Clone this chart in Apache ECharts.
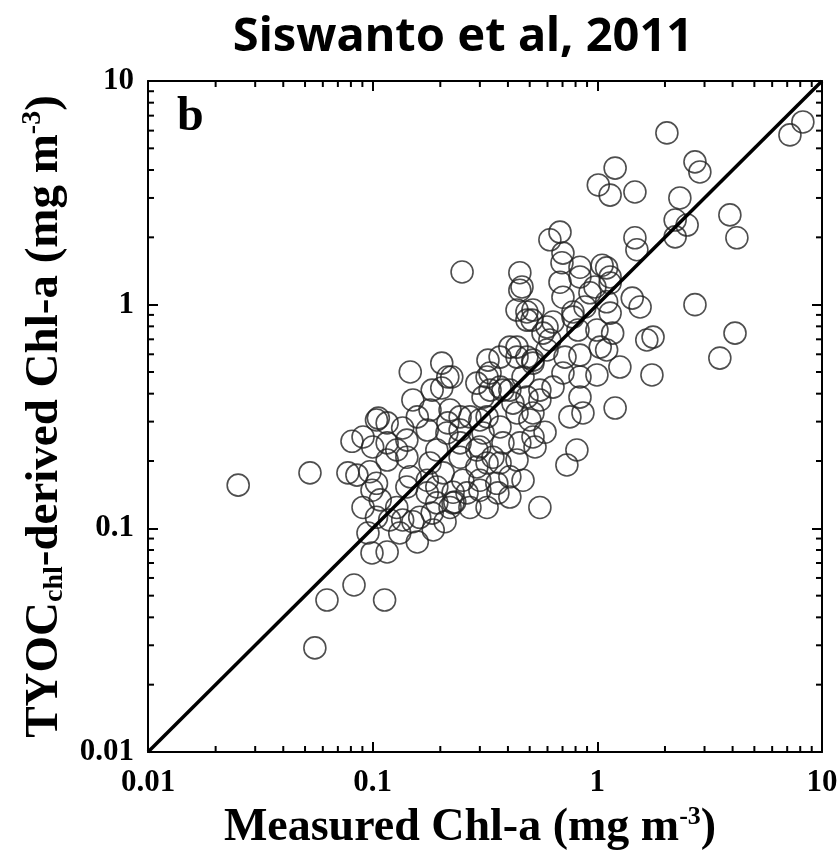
<!DOCTYPE html>
<html><head><meta charset="utf-8">
<script src="https://cdn.jsdelivr.net/npm/echarts@6/dist/echarts.min.js"></script>
<style>html,body{margin:0;padding:0;background:#fff}#c{width:837px;height:850px}</style>
</head><body><div id="c"></div>
<script>
// Measured Chl-a (x) and TYOCchl-derived Chl-a (y), mg m^-3
const measured = [
0.0252,0.0526,0.0776,0.0851,0.0809,0.0906,0.104,0.0993,0.0906,0.104,
0.0953,0.0993,0.0826,0.0626,0.0553,0.113,0.0972,0.116,0.132,0.158,
0.151,0.184,0.210,0.186,0.206,0.228,0.232,0.193,0.175,0.142,
0.245,0.300,0.291,0.300,0.323,0.216,0.245,0.300,0.310,0.310,
0.323,0.326,0.147,0.203,0.216,0.184,0.203,0.151,0.158,0.180,
0.221,0.106,0.116,0.136,0.116,0.128,0.142,0.116,0.108,0.128,
0.119,0.136,0.162,0.193,0.221,0.147,0.175,0.180,0.193,0.214,
0.142,0.175,0.100,0.104,0.228,0.271,0.323,0.263,0.300,0.361,
0.408,0.252,0.357,0.408,0.467,0.369,0.439,0.343,0.291,0.245,
0.245,0.380,0.452,0.517,0.501,0.439,0.369,0.323,0.271,0.421,
0.486,0.408,0.369,0.333,0.408,0.369,0.439,0.486,0.517,0.555,
0.452,0.439,0.486,0.486,2.04,2.72,2.86,2.33,2.22,2.51,
2.22,3.89,4.18,2.72,4.10,3.51,1.75,1.77,1.66,1.20,
1.01,1.14,1.47,0.682,0.615,0.703,0.696,0.250,0.452,0.462,
1.47,1.50,1.10,1.43,1.55,1.14,0.635,0.779,0.927,0.976,
0.703,0.682,0.837,1.14,0.820,0.996,1.17,1.10,1.26,0.996,
0.837,0.718,0.615,0.597,0.439,0.333,0.291,0.380,0.517,0.467,
0.555,0.635,0.837,0.225,1.05,0.837,0.779,0.881,1.14,1.10,
0.517,0.512,0.573,1.03,0.837,0.597,0.703,0.555,0.517,0.585,
0.528,0.755,0.863,1.20,0.811,0.732,7.20,8.22
];
const derived = [
0.156,0.177,0.177,0.173,0.245,0.256,0.305,0.148,0.124,0.112,
0.0953,0.0776,0.0558,0.0478,0.0292,0.0478,0.179,0.0784,0.0953,0.0869,
0.107,0.117,0.107,0.0983,0.177,0.145,0.131,0.153,0.144,0.153,
0.208,0.231,0.188,0.164,0.196,0.296,0.315,0.305,0.267,0.386,
0.475,0.565,0.500,0.548,0.475,0.415,0.424,0.375,0.315,0.338,
0.338,0.311,0.296,0.281,0.241,0.224,0.208,0.202,0.134,0.124,
0.109,0.109,0.112,0.130,0.124,0.170,0.164,0.196,0.224,0.267,
0.248,0.275,0.231,0.159,0.130,0.124,0.124,0.144,0.148,0.144,
0.138,0.164,0.159,0.170,0.164,0.196,0.202,0.208,0.224,0.241,
0.275,0.241,0.241,0.256,0.305,0.328,0.284,0.315,0.315,0.363,
0.386,0.415,0.428,0.415,0.646,0.583,0.583,0.583,0.565,0.124,
1.16,0.946,0.927,0.853,5.86,4.35,3.92,3.00,2.39,2.27,
2.01,2.52,1.99,1.00,0.746,0.577,0.485,0.716,0.695,4.08,
3.43,3.09,3.19,2.11,1.95,1.70,1.54,1.40,1.39,1.20,
1.99,1.76,1.46,1.07,0.976,0.917,0.836,0.880,1.13,1.20,
1.08,1.26,1.33,1.33,0.770,0.770,0.746,0.627,0.526,0.485,
0.475,0.583,0.695,0.794,0.646,0.495,0.446,0.415,0.548,0.475,
0.415,0.428,0.386,0.475,1.50,1.47,0.927,0.976,1.25,1.03,
0.946,0.853,0.746,0.646,0.595,0.627,0.495,0.375,0.328,0.269,
0.231,0.315,0.328,0.345,0.224,0.192,5.74,6.56
];
const oneToOneX = [0.01, 10];
const oneToOneY = [0.01, 10];
const axisMin = 0.01, axisMax = 10;
const majorTickLabels = ['0.01', '0.1', '1', '10'];
const minorTickValues = [0.02,0.03,0.04,0.05,0.06,0.07,0.08,0.09,
  0.2,0.3,0.4,0.5,0.6,0.7,0.8,0.9, 2,3,4,5,6,7,8,9];

const serif = 'Liberation Serif';
const chart = echarts.init(document.getElementById('c'), null, {renderer: 'canvas'});
const labelFmt = v => {
  const r = Number(v.toPrecision(2));
  const s = String(r);
  return majorTickLabels.includes(s) ? s : '';
};
const baseAxis = {
  type: 'log', logBase: 10, min: axisMin, max: axisMax, splitNumber: 3,
  axisLine: {show: true, lineStyle: {color: '#000', width: 2}},
  axisTick: {show: true, inside: true, length: 10, lineStyle: {color: '#000', width: 2}},
  splitLine: {show: false}, minorTick: {show: false}
};
const scatterData = measured.map((m, i) => [m, derived[i]]);
const lineData = oneToOneX.map((x, i) => [x, oneToOneY[i]]);

chart.setOption({
  animation: false,
  backgroundColor: '#fff',
  title: {
    text: 'Siswanto et al, 2011', left: 458, top: 9, textAlign: 'center',
    textStyle: {fontFamily: 'Noto Sans', fontWeight: 'bold', fontSize: 47, color: '#000'}
  },
  grid: {left: 148, right: 15, top: 81, bottom: 98, containLabel: false, outerBoundsMode: 'none'},
  xAxis: [
    Object.assign({}, baseAxis, {
      position: 'bottom',
      name: 'Measured Chl-a (mg m{sup|-3})',
      nameLocation: 'middle', nameGap: 52,
      nameTextStyle: {fontFamily: serif, fontWeight: 'bold', fontSize: 46, color: '#000',
        padding: [0, 30, 0, 0],
        rich: {sup: {fontFamily: serif, fontWeight: 'bold', fontSize: 26, verticalAlign: 'top', padding: [0,0,22,0]}}},
      axisLabel: {show: true, margin: 15, fontFamily: serif, fontWeight: 'bold', fontSize: 31, color: '#000', formatter: labelFmt}
    }),
    Object.assign({}, baseAxis, {position: 'top', axisLabel: {show: false}})
  ],
  yAxis: [
    Object.assign({}, baseAxis, {
      position: 'left',
      name: 'TYOC{sub|chl}-derived Chl-a (mg m{sup|-3})',
      nameLocation: 'middle', nameGap: 76, nameRotate: 90,
      nameTextStyle: {fontFamily: serif, fontWeight: 'bold', fontSize: 47, color: '#000',
        rich: {
          sub: {fontFamily: serif, fontWeight: 'bold', fontSize: 28, padding: [20,0,0,0]},
          sup: {fontFamily: serif, fontWeight: 'bold', fontSize: 28, padding: [0,0,24,0]}
        }},
      axisLabel: {show: true, margin: 14, fontFamily: serif, fontWeight: 'bold', fontSize: 31, color: '#000', formatter: labelFmt}
    }),
    Object.assign({}, baseAxis, {position: 'right', axisLabel: {show: false}})
  ],
  graphic: [{
    type: 'text', left: 177, top: 94,
    style: {text: 'b', fontFamily: serif, fontWeight: 'bold', fontSize: 48, fill: '#000'}
  }],
  series: [
    {
      type: 'scatter', xAxisIndex: 0, yAxisIndex: 0, data: scatterData,
      symbol: 'circle', symbolSize: 22, z: 2,
      itemStyle: {color: 'rgba(255,255,255,0)', borderColor: '#222', borderWidth: 1.6}
    },
    {
      type: 'line', xAxisIndex: 0, yAxisIndex: 0, data: lineData, z: 3,
      showSymbol: false, symbol: 'none',
      lineStyle: {color: '#000', width: 3.5}
    },
    {
      type: 'custom', xAxisIndex: 0, yAxisIndex: 0, z: 4, silent: true,
      data: minorTickValues.map(v => [v, v]),
      renderItem: (params, api) => {
        const v = api.value(0);
        const len = 6;
        const b = api.coord([v, axisMin]);
        const t = api.coord([v, axisMax]);
        const l = api.coord([axisMin, v]);
        const r = api.coord([axisMax, v]);
        const st = {stroke: '#000', lineWidth: 2};
        return {type: 'group', children: [
          {type: 'line', shape: {x1: b[0], y1: b[1], x2: b[0], y2: b[1] - len}, style: st},
          {type: 'line', shape: {x1: t[0], y1: t[1], x2: t[0], y2: t[1] + len}, style: st},
          {type: 'line', shape: {x1: l[0], y1: l[1], x2: l[0] + len, y2: l[1]}, style: st},
          {type: 'line', shape: {x1: r[0], y1: r[1], x2: r[0] - len, y2: r[1]}, style: st}
        ]};
      }
    }
  ]
});
</script></body></html>
